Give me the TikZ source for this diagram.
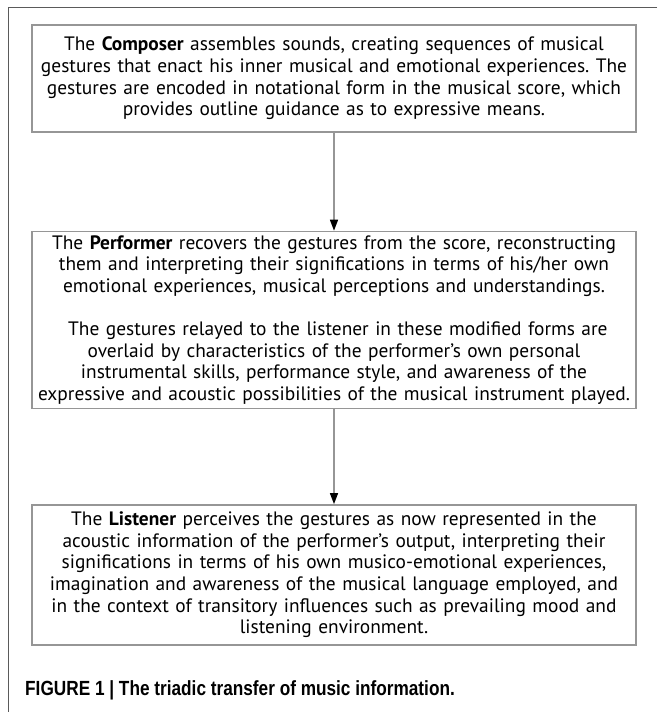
\documentclass[tikz,border=0pt]{standalone}
\usepackage{fontspec}
\setmainfont{PT Sans}
\newfontfamily\capfont[FakeStretch=0.84]{Liberation Sans}
\usetikzlibrary{positioning,arrows.meta}
\definecolor{boxgray}{RGB}{150,150,150}
\definecolor{framegray}{RGB}{90,90,90}
\frenchspacing
\begin{document}
\begin{tikzpicture}[x=1pt,y=-1pt,node distance=98pt]
\tikzstyle{every node}=[inner sep=0pt]
\tikzstyle{stagebox}=[draw=boxgray,line width=1.4pt,fill=white,
  minimum width=604pt,text width=600pt,align=center,
  font=\fontsize{19.4}{21.6}\selectfont]
\tikzstyle{flow}=[draw=boxgray,line width=1.4pt,
  -{Triangle[black,length=11pt,width=8pt]}]
\useasboundingbox (0,0) rectangle (657,712);
% outer frame
\draw[framegray,line width=0.9pt] (657,7) -- (8,7) -- (8,712);
% the three stages
\node[stagebox,minimum height=107pt] (composer) at (334,78.5)
  {The \textbf{Composer} assembles sounds, creating sequences of musical\\
   gestures that enact his inner musical and emotional experiences. The\\
   gestures are encoded in notational form in the musical score, which\\
   provides outline guidance as to expressive means.\par\vspace{20pt}};
\node[stagebox,minimum height=177pt,below=98pt of composer] (performer)
  {The \textbf{Performer} recovers the gestures from the score, reconstructing\\
   them and interpreting their significations in terms of his/her own\\
   emotional experiences, musical perceptions and understandings.\\[\baselineskip]
   \hspace{0.4em}The gestures relayed to the listener in these modified forms are\\
   overlaid by characteristics of the performer’s own personal\\
   instrumental skills, performance style, and awareness of the\\
   expressive and acoustic possibilities of the musical instrument played.};
\node[stagebox,minimum height=140pt,below=95pt of performer] (listener)
  {The \textbf{Listener} perceives the gestures as now represented in the\\
   acoustic information of the performer’s output, interpreting their\\
   significations in terms of his own musico-emotional experiences,\\
   imagination and awareness of the musical language employed, and\\
   in the context of transitory influences such as prevailing mood and\\
   listening environment.};
% transfers
\draw[flow] (composer) -- (performer);
\draw[flow] (performer) -- (listener);
% caption
\node[anchor=west,font=\capfont\bfseries\fontsize{20.5}{22}\selectfont] (caption)
  at (25,690) {FIGURE 1 | The triadic transfer of music information.};
\end{tikzpicture}
\end{document}
